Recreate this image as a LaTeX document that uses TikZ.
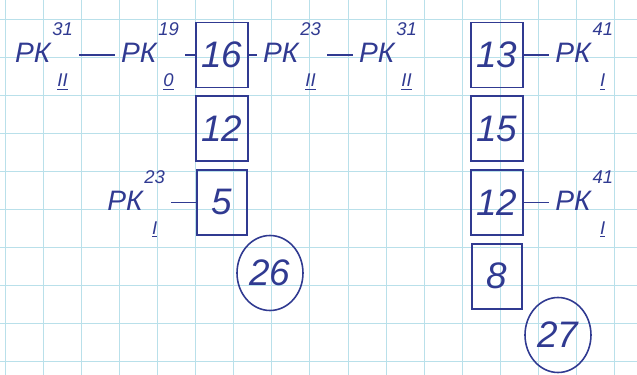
\documentclass[tikz,border=0pt]{standalone}
\usepackage{fontspec}
\setmainfont{Liberation Sans}
\usetikzlibrary{positioning,shapes.geometric,backgrounds}
\definecolor{inkblue}{RGB}{48,58,145}
\definecolor{gridcyan}{RGB}{185,224,234}
% repair mark: letters, number above, underlined numeral below
\newcommand{\rkmark}[2]{РК\hspace{1pt}\begin{tabular}[c]{@{}c@{}}\fontsize{10.5}{12}\selectfont #1\\[11pt]\fontsize{10.5}{12}\selectfont\underline{#2}\end{tabular}}

\begin{document}
\begin{tikzpicture}[x=0.02cm, y=-0.02cm, font=\itshape, node distance=0.14cm,
    cell/.style={rectangle, draw=inkblue, line width=1pt, text=inkblue, minimum width=1cm, minimum height=1.3cm, font=\itshape\fontsize{21}{24}\selectfont},
    rk/.style={text=inkblue, font=\itshape\fontsize{16}{18}\selectfont},
    total/.style={ellipse, draw=inkblue, line width=0.9pt, text=inkblue, minimum width=1.32cm, minimum height=1.5cm, inner sep=0pt, font=\itshape\fontsize{21}{24}\selectfont},
    wire/.style={draw=inkblue, line width=0.9pt},
    gridline/.style={draw=gridcyan, line width=0.45pt}]
        \useasboundingbox (0,0) rectangle (637,375);
        % squared paper
        \foreach \gx in {0,...,16}
            \draw[gridline] ({5+38.1*\gx},0) -- ({5+38.1*\gx},375);
        \foreach \gy in {0,...,9}
            \draw[gridline] (0,{19+38*\gy}) -- (637,{19+38*\gy});

        % left stack
        \node[cell] (s16) at (222,55) {16};
        \node[cell, below=of s16] (s12) {12};
        \node[cell, below=of s12] (s5) {5};
        \node[total] (n26) at (270,273) {26};

        % right stack
        \node[cell] (t13) at (497,55) {13};
        \node[cell, below=of t13] (t15) {15};
        \node[cell, below=of t15] (t12) {12};
        \node[cell, below=of t12] (t8) {8};
        \node[total] (n27) at (558,335) {27};

        % marks
        \node[rk] (rk1) at (44,55) {\rkmark{31}{II}};
        \node[rk] (rk2) at (150,55) {\rkmark{19}{0}};
        \node[rk] (rk3) at (292,55) {\rkmark{23}{II}};
        \node[rk] (rk4) at (388,55) {\rkmark{31}{II}};
        \node[rk, right=0.5cm of t13] (rk5) {\rkmark{41}{I}};
        \node[rk, right=0.5cm of t12] (rk6) {\rkmark{41}{I}};
        \node[rk, left=0.5cm of s5] (rk7) {\rkmark{23}{I}};

        \draw[wire] (rk1) -- (rk2);
        \draw[wire] (rk2) -- (s16);
        \draw[wire] (s16) -- (rk3);
        \draw[wire] (rk3) -- (rk4);
        \draw[wire] (t13) -- (rk5);
        \draw[wire] (t12) -- (rk6);
        \draw[wire] (rk7) -- (s5);
\end{tikzpicture}
\end{document}
